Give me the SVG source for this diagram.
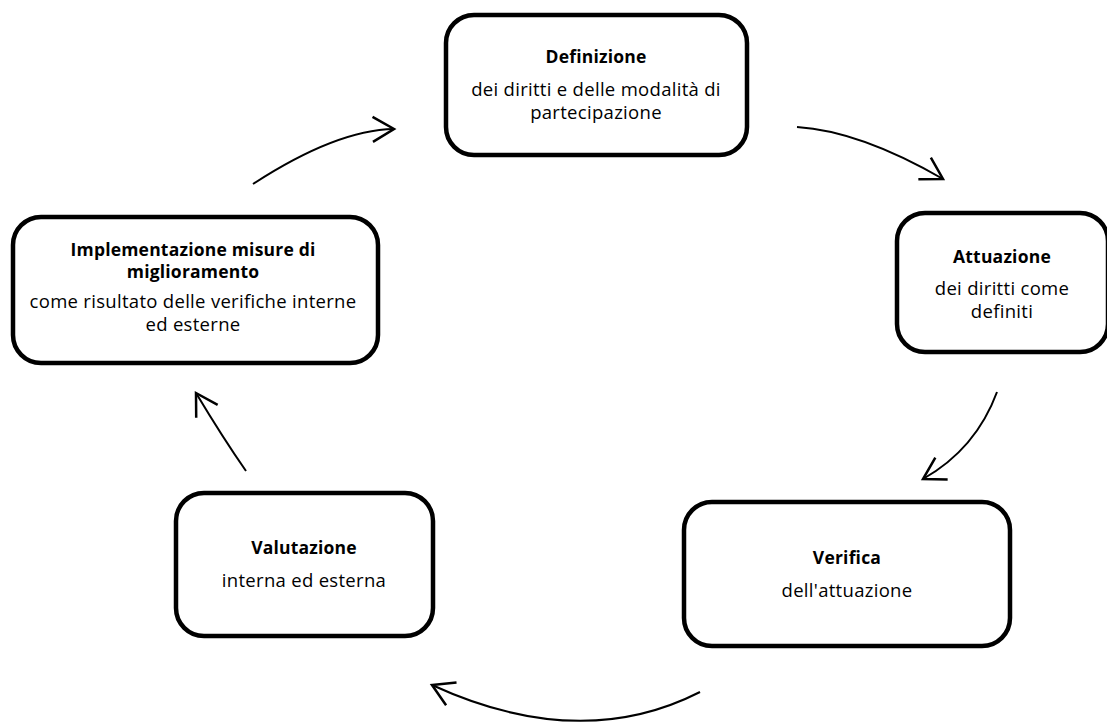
<svg xmlns="http://www.w3.org/2000/svg" width="1107" height="722" viewBox="0 0 1107 722">
<style>
.box{fill:#fff;stroke:#000;stroke-width:4.5}
.t{font-family:"Open Sans","Liberation Sans",sans-serif;font-size:18.5px;letter-spacing:0.3px;fill:#000;text-anchor:middle}
.b{font-weight:bold;font-size:17.5px;letter-spacing:0.2px}
.c{fill:none;stroke:#000;stroke-width:2}
</style>
<defs>
<marker id="ah" markerUnits="userSpaceOnUse" markerWidth="30" markerHeight="30" refX="0" refY="0" viewBox="-20 -12 22 24" orient="auto" overflow="visible">
<path d="M-17,-10 L0,0 L-17,10" fill="none" stroke="#000" stroke-width="2"/>
</marker>
</defs>
<rect width="1107" height="722" fill="#fff"/>
<g id="connectors">
<path class="c" d="M253,184 Q336,130 394,129" marker-end="url(#ah)"/>
<path class="c" d="M797,127 Q860,131 943,179" marker-end="url(#ah)"/>
<path class="c" d="M997,392 Q976,449 923,479" marker-end="url(#ah)"/>
<path class="c" d="M700,692 Q580,753 432,685" marker-end="url(#ah)"/>
<path class="c" d="M246,471 Q223,438 196,393" marker-end="url(#ah)"/>
</g>
<g id="node-definizione">
<rect class="box" x="446" y="15" width="301" height="140" rx="28"/>
<text class="t b" x="596" y="63">Definizione</text>
<text class="t" x="596" y="96">dei diritti e delle modalità di</text>
<text class="t" x="596" y="119">partecipazione</text>
</g>
<g id="node-attuazione">
<rect class="box" x="897" y="213" width="211" height="139" rx="28"/>
<text class="t b" x="1002" y="263">Attuazione</text>
<text class="t" x="1002" y="295">dei diritti come</text>
<text class="t" x="1002" y="318">definiti</text>
</g>
<g id="node-verifica">
<rect class="box" x="684" y="502" width="326" height="144" rx="28"/>
<text class="t b" x="847" y="564">Verifica</text>
<text class="t" x="847" y="597">dell'attuazione</text>
</g>
<g id="node-valutazione">
<rect class="box" x="176" y="493" width="257" height="143" rx="28"/>
<text class="t b" x="304" y="554">Valutazione</text>
<text class="t" x="304" y="587">interna ed esterna</text>
</g>
<g id="node-implementazione">
<rect class="box" x="13" y="217" width="365" height="146" rx="28"/>
<text class="t b" x="193" y="256">Implementazione misure di</text>
<text class="t b" x="193" y="278">miglioramento</text>
<text class="t" x="193" y="308">come risultato delle verifiche interne</text>
<text class="t" x="193" y="331">ed esterne</text>
</g>
</svg>
